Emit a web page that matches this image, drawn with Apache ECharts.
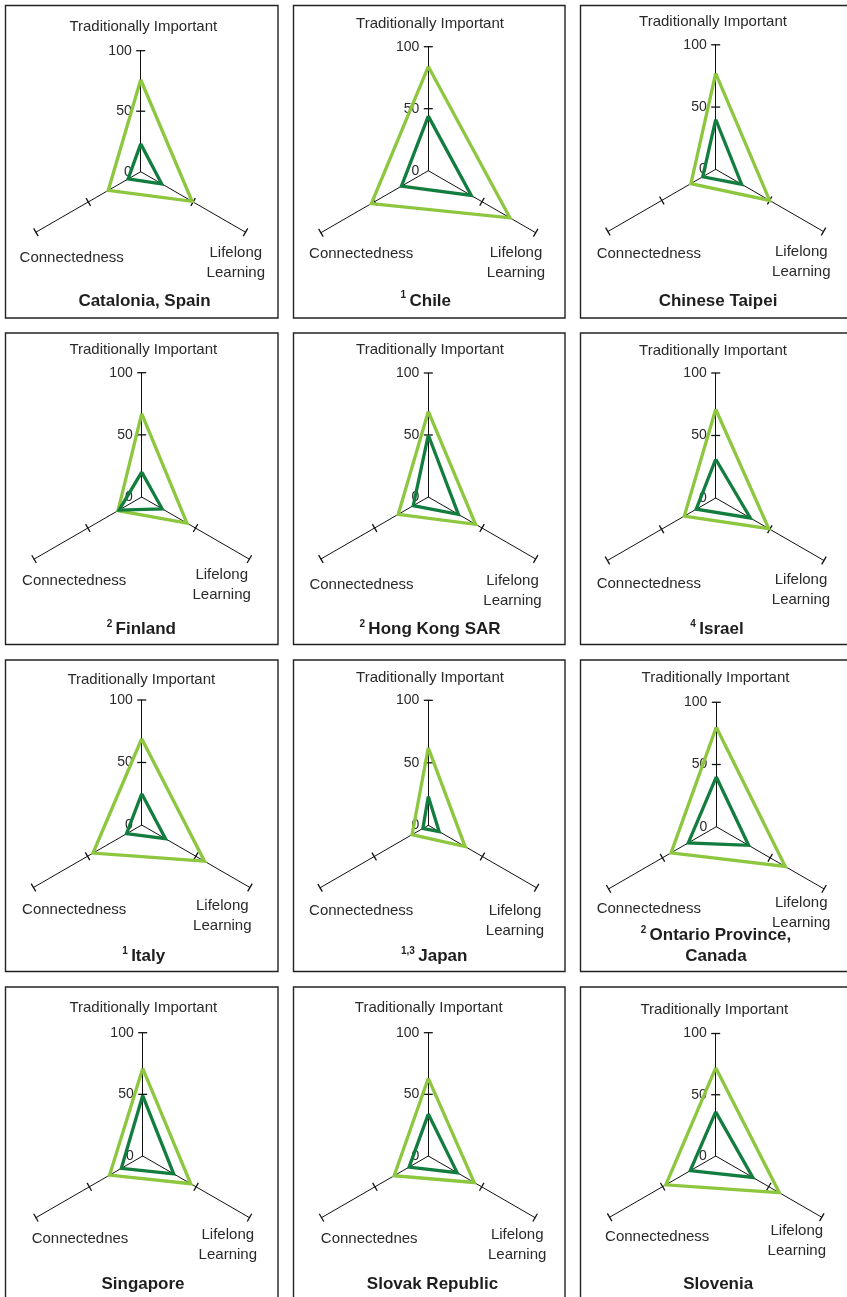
<!DOCTYPE html>
<html><head><meta charset="utf-8">
<script src="https://cdn.jsdelivr.net/npm/echarts@6/dist/echarts.min.js"></script>
<style>html,body{margin:0;padding:0;background:#fff}#c{width:847px;height:1297px}</style>
</head><body><div id="c"></div>
<script>
// ---------- data ----------
const countries = ['Catalonia, Spain', 'Chile', 'Chinese Taipei', 'Finland', 'Hong Kong SAR', 'Israel',
  'Italy', 'Japan', 'Ontario Province,\nCanada', 'Singapore', 'Slovak Republic', 'Slovenia'];
const notes = ['', '1', '', '2', '2', '4', '1', '1,3', '2', '', '', ''];
const axisNames = ['Traditionally Important', 'Connectedness', 'Lifelong Learning'];
const connLabels = ['Connectedness', 'Connectedness', 'Connectedness', 'Connectedness', 'Connectedness', 'Connectedness',
  'Connectedness', 'Connectedness', 'Connectedness', 'Connectednes', 'Connectednes', 'Connectedness'];
const lifelongLabel = 'Lifelong\nLearning';
const tickValues = [0, 50, 100];
// [Traditionally Important, Connectedness, Lifelong Learning]
const outerValues = [
  [76, 31, 49], [84, 53, 76], [77, 23, 50],
  [67, 22, 42], [69, 28, 44], [71, 29, 49],
  [69, 45, 58], [62, 15, 34], [80, 42, 64],
  [71, 31, 45], [63, 32, 43], [72, 47, 60]
];
const innerValues = [
  [23, 12, 20], [44, 25, 40], [40, 12, 24],
  [20, 21, 19], [50, 14, 28], [31, 18, 32],
  [25, 14, 22], [23, 5, 10], [40, 26, 30],
  [49, 20, 29], [34, 18, 27], [36, 24, 35]
];

// ---------- layout ----------
const centers = [
  [140.7, 171.7, 121], [428.3, 170.7, 124], [715.7, 169.3, 124.5],
  [141.7, 497, 124.3], [428.3, 497, 124], [715.7, 498, 125],
  [141.7, 825, 125], [428.3, 825.3, 125], [716.3, 826.7, 124.4],
  [142.7, 1156, 123.3], [428.3, 1156, 123.3], [715.7, 1156, 122.5]
];
// TI x,y ; Conn x,y ; LL x,y ; title x,y
const labelPos = [
  [143.3, 26.7, 71.7, 257.7, 235.8, 263.3, 144.5, 301.7],
  [430, 24.3, 361.2, 254, 516, 263, 425.8, 301],
  [713, 21.7, 648.8, 254, 801.3, 262, 718, 301.7],
  [143.3, 349.7, 74.2, 581.3, 221.7, 585.2, 141.3, 629.7],
  [430, 349.7, 361.5, 584.7, 512.5, 590.5, 430, 629.7],
  [713, 350.7, 648.8, 584, 801, 589.5, 717, 629.7],
  [141.3, 680, 74.2, 910, 222.3, 916.2, 143.7, 956.7],
  [430, 677.7, 361.2, 911, 515, 920.5, 434.2, 956.7],
  [715.5, 677.7, 648.8, 909, 801.2, 913.3, 716, 945.8],
  [143.3, 1008.3, 80, 1239.3, 227.8, 1245, 143, 1284],
  [428.7, 1008.3, 369.2, 1239.3, 517.2, 1244.5, 432.5, 1284],
  [714.3, 1010, 657.2, 1236.7, 796.8, 1241.2, 718.2, 1284]
];
const colX = [5.5, 293.5, 580.5], colW = [272.5, 271.5, 280];
const rowY = [5.5, 333, 660, 987], rowH = [312.5, 311.5, 311.5, 330];

const FONT = '"Liberation Sans", Arial, sans-serif';
const TXT = '#2a2a2a';
const AXIS = '#111111';
const LIGHT = '#8DC63F';
const DARK = '#127D3F';
const TICK = ['none', 'rect'];
const TICK_SIZE = [9, 1.3];

const radars = [], series = [], elements = [];
centers.forEach((c, i) => {
  const base = {
    center: [c[0], c[1]], startAngle: 90, shape: 'polygon', splitNumber: 2,
    axisName: { show: false },
    splitLine: { show: false }, splitArea: { show: false },
    axisTick: { show: false },
    silent: true
  };
  // main axes (0..100) with tick bar at 100
  radars.push(Object.assign({}, base, {
    radius: c[2],
    indicator: axisNames.map((n, k) => k === 0
      ? { name: n, min: 0, max: 100, axisLabel: { show: true } }
      : { name: n, min: 0, max: 100 }),
    axisLine: { show: true, symbol: TICK, symbolSize: TICK_SIZE, lineStyle: { color: AXIS, width: 1 } },
    axisLabel: { show: false, customValues: tickValues, margin: 9, fontSize: 14, color: TXT, fontFamily: FONT }
  }));
  // half-way tick bars (at 50)
  radars.push(Object.assign({}, base, {
    radius: c[2] / 2,
    indicator: axisNames.map(n => ({ name: n, min: 0, max: 50 })),
    axisLine: { show: true, symbol: TICK, symbolSize: TICK_SIZE, lineStyle: { color: AXIS, width: 0.01 } },
    axisLabel: { show: false }
  }));
  series.push({
    type: 'radar', radarIndex: i * 2, symbol: 'none', silent: true,
    data: [
      { name: 'Outer', value: outerValues[i], lineStyle: { color: LIGHT, width: 3.3, join: 'miter' } },
      { name: 'Inner', value: innerValues[i], lineStyle: { color: DARK, width: 3.3, join: 'miter' } }
    ]
  });
  const col = i % 3, row = Math.floor(i / 3);
  elements.push({ type: 'rect', shape: { x: colX[col], y: rowY[row], width: colW[col], height: rowH[row] },
    style: { fill: null, stroke: '#222', lineWidth: 1.4 }, silent: true, z: 10 });
  const p = labelPos[i];
  const ts = { fill: TXT, fontSize: 15, fontFamily: FONT, align: 'center', verticalAlign: 'middle' };
  elements.push({ type: 'text', x: p[0], y: p[1], style: Object.assign({ text: axisNames[0] }, ts) });
  elements.push({ type: 'text', x: p[2], y: p[3], style: Object.assign({ text: connLabels[i] }, ts) });
  elements.push({ type: 'text', x: p[4], y: p[5], style: Object.assign({ text: lifelongLabel, lineHeight: 20 }, ts) });
  const lines = countries[i].split('\n');
  const txt = lines.map((l, k) => (k === 0 && notes[i] ? '{s|' + notes[i] + '} ' : '') + '{t|' + l + '}').join('\n');
  elements.push({ type: 'text', x: p[6], y: p[7], style: {
    text: txt, align: 'center', verticalAlign: 'middle', fill: '#1e1e1e', fontFamily: FONT,
    rich: {
      s: { fontSize: 10, fontWeight: 'bold', fill: '#1e1e1e', fontFamily: FONT, verticalAlign: 'top', lineHeight: 21 },
      t: { fontSize: 17, fontWeight: 'bold', fill: '#1e1e1e', fontFamily: FONT, lineHeight: 21 }
    }
  } });
});

const chart = echarts.init(document.getElementById('c'), null, { renderer: 'canvas' });
chart.setOption({
  backgroundColor: '#ffffff',
  animation: false,
  radar: radars,
  series: series,
  graphic: { elements: elements }
});
</script>
</body></html>
